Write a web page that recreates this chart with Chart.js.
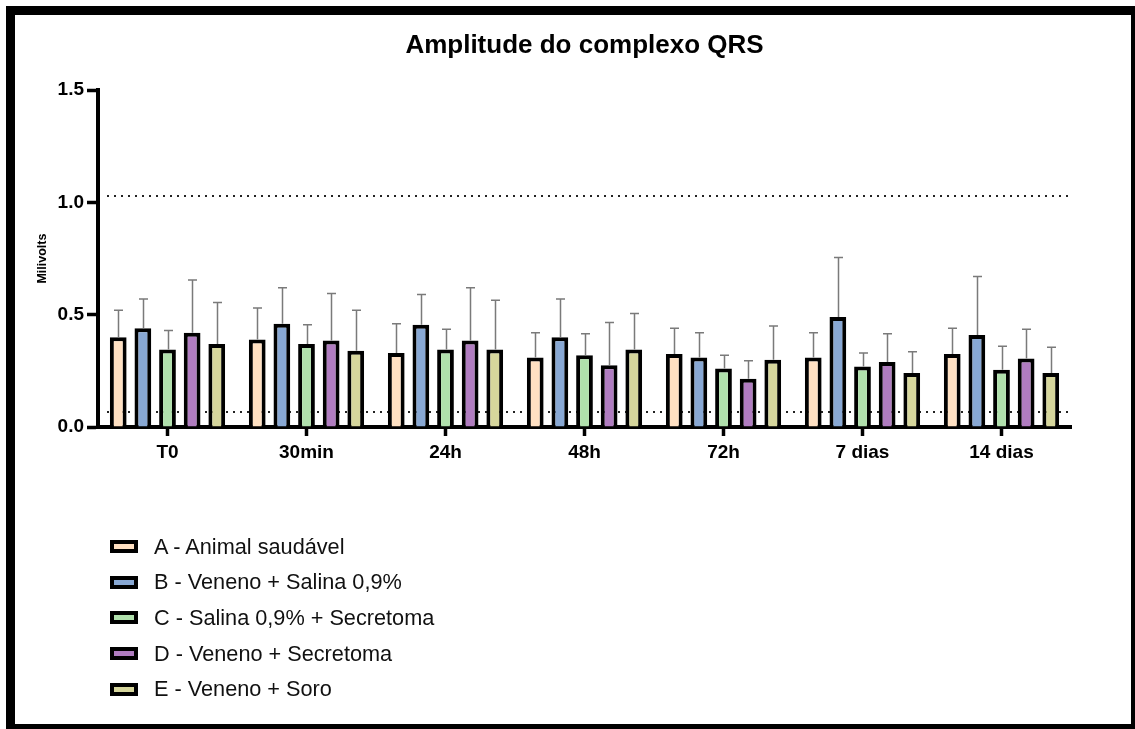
<!DOCTYPE html>
<html>
<head>
<meta charset="utf-8">
<script src="https://cdn.jsdelivr.net/npm/chart.js@4.4.1/dist/chart.umd.min.js"></script>
<style>
  html, body { margin: 0; padding: 0; background: #fff; overflow: hidden; }
  #wrap { position: relative; width: 1135px; height: 729px; }
  #chart { position: absolute; left: 0; top: 0; }
  #frame {
    position: absolute; left: 6px; top: 6px; width: 1134px; height: 727px;
    box-sizing: border-box; border: 9px solid #000; pointer-events: none;
  }
  #legend {
    position: absolute; left: 110px; top: 529px;
    font-family: "Liberation Sans", Arial, sans-serif; font-size: 21.7px; color: #111;
  }
  .item { display: flex; align-items: center; height: 35.6px; }
  .swatch { width: 28px; height: 13px; box-sizing: border-box; border: 4px solid #000; margin-right: 16px; }
</style>
</head>
<body>
<div id="wrap">
  <canvas id="chart" width="1135" height="729"></canvas>
  <div id="legend"></div>
  <div id="frame"></div>
</div>
<script>
// Time points
const categories = ['T0', '30min', '24h', '48h', '72h', '7 dias', '14 dias'];

// Group names
const groupLabels = [
  'A - Animal saudável',
  'B - Veneno + Salina 0,9%',
  'C - Salina 0,9% + Secretoma',
  'D - Veneno + Secretoma',
  'E - Veneno + Soro'
];

// Mean QRS amplitude (mV) per group
const meanA = [0.40, 0.39, 0.33, 0.31, 0.325, 0.31, 0.325];
const meanB = [0.44, 0.46, 0.455, 0.40, 0.31, 0.49, 0.41];
const meanC = [0.345, 0.37, 0.345, 0.32, 0.26, 0.27, 0.255];
const meanD = [0.42, 0.385, 0.385, 0.275, 0.215, 0.29, 0.305];
const meanE = [0.37, 0.34, 0.345, 0.345, 0.30, 0.24, 0.24];

// Standard deviation (upper error bar) per group
const sdA = [0.12, 0.14, 0.13, 0.11, 0.115, 0.11, 0.115];
const sdB = [0.13, 0.16, 0.135, 0.17, 0.11, 0.265, 0.26];
const sdC = [0.085, 0.085, 0.09, 0.095, 0.06, 0.06, 0.105];
const sdD = [0.235, 0.21, 0.235, 0.19, 0.08, 0.125, 0.13];
const sdE = [0.185, 0.18, 0.22, 0.16, 0.15, 0.095, 0.115];

// Y axis tick values
const yTicks = [0.0, 0.5, 1.0, 1.5];

// Reference range (dotted lines)
const referenceLines = [1.03, 0.067];

const groupColors = ['#FFE0C2', '#88A8D4', '#B0E0AC', '#B07CC0', '#D6D69C'];
const means = [meanA, meanB, meanC, meanD, meanE];
const sds = [sdA, sdB, sdC, sdD, sdE];

const FONT = '"Liberation Sans", Arial, sans-serif';

const datasets = groupLabels.map((label, i) => ({
  label,
  data: means[i],
  sd: sds[i],
  backgroundColor: groupColors[i],
  borderColor: '#000',
  borderWidth: 4,
  borderSkipped: 'start',
  barPercentage: 0.68,
  categoryPercentage: 0.886
}));

// Dotted reference lines across the plot area
const refLinePlugin = {
  id: 'refLines',
  beforeDatasetsDraw(chart) {
    const { ctx, chartArea, scales: { y } } = chart;
    ctx.save();
    ctx.strokeStyle = '#222';
    ctx.lineWidth = 2;
    ctx.setLineDash([2, 5]);
    referenceLines.forEach(v => {
      const py = Math.round(y.getPixelForValue(v));
      ctx.beginPath();
      ctx.moveTo(chartArea.left + 9, py);
      ctx.lineTo(chartArea.right, py);
      ctx.stroke();
    });
    ctx.restore();
  }
};

// Upper error bars (mean + SD)
const errorBarPlugin = {
  id: 'errorBars',
  afterDatasetsDraw(chart) {
    const { ctx, scales: { y } } = chart;
    ctx.save();
    ctx.strokeStyle = '#7a7a7a';
    ctx.lineWidth = 1.5;
    chart.data.datasets.forEach((ds, i) => {
      const meta = chart.getDatasetMeta(i);
      meta.data.forEach((bar, j) => {
        const x = Math.round(bar.x) + 0.5;
        const yTop = y.getPixelForValue(ds.data[j] + ds.sd[j]);
        const yBase = y.getPixelForValue(ds.data[j]);
        ctx.beginPath();
        ctx.moveTo(x, yBase);
        ctx.lineTo(x, yTop);
        ctx.moveTo(x - 4.5, yTop);
        ctx.lineTo(x + 4.5, yTop);
        ctx.stroke();
      });
    });
    ctx.restore();
  }
};

const chart = new Chart(document.getElementById('chart'), {
  type: 'bar',
  data: { labels: categories, datasets },
  options: {
    responsive: false,
    animation: false,
    devicePixelRatio: 1,
    layout: { padding: { top: 0, left: 0, right: 64, bottom: 262 } },
    plugins: {
      legend: { display: false },
      tooltip: { enabled: false },
      title: {
        display: true,
        fullSize: false,
        text: 'Amplitude do complexo QRS',
        color: '#000',
        font: { family: FONT, size: 26, weight: 'bold' },
        padding: { top: 30, bottom: 29 }
      }
    },
    scales: {
      x: {
        afterFit(scale) { scale.height = 40; },
        grid: {
          display: true,
          offset: false,
          drawOnChartArea: false,
          drawTicks: true,
          tickLength: 9,
          tickWidth: 3.5,
          tickColor: '#000'
        },
        border: { display: true, color: '#000', width: 4 },
        ticks: {
          color: '#000',
          padding: 5,
          font: { family: FONT, size: 19, weight: 'bold' }
        }
      },
      y: {
        min: 0,
        max: 1.5,
        afterFit(scale) { scale.width = 98; },
        afterBuildTicks(scale) { scale.ticks = yTicks.map(v => ({ value: v })); },
        grid: {
          display: true,
          drawOnChartArea: false,
          drawTicks: true,
          tickLength: 11,
          tickWidth: 3.5,
          tickColor: '#000'
        },
        border: { display: true, color: '#000', width: 4 },
        ticks: {
          color: '#000',
          padding: 3,
          font: { family: FONT, size: 19, weight: 'bold' },
          callback: v => Number(v).toFixed(1)
        },
        title: {
          display: true,
          text: 'Milivolts',
          color: '#000',
          font: { family: FONT, size: 12.5, weight: 'bold' },
          padding: { top: 35, bottom: 0 }
        }
      }
    }
  },
  plugins: [refLinePlugin, errorBarPlugin]
});

// Vertical legend built from the chart's datasets
const legendEl = document.getElementById('legend');
chart.data.datasets.forEach(ds => {
  const row = document.createElement('div');
  row.className = 'item';
  const sw = document.createElement('span');
  sw.className = 'swatch';
  sw.style.background = ds.backgroundColor;
  const txt = document.createElement('span');
  txt.textContent = ds.label;
  row.appendChild(sw);
  row.appendChild(txt);
  legendEl.appendChild(row);
});
</script>
</body>
</html>
